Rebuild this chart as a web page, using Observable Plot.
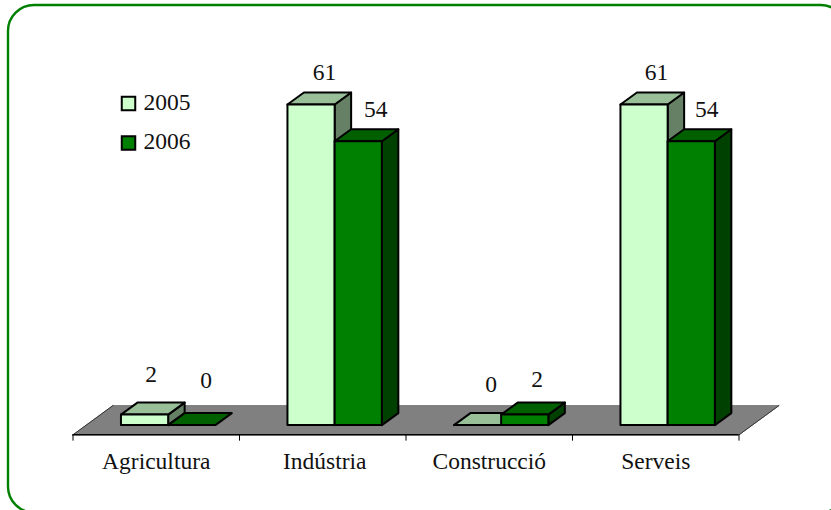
<!DOCTYPE html>
<html>
<head>
<meta charset="utf-8">
<script src="https://cdn.jsdelivr.net/npm/d3@7"></script>
<script src="https://cdn.jsdelivr.net/npm/@observablehq/plot@0.6"></script>
<style>html,body{margin:0;padding:0;background:#fff;overflow:hidden}</style>
</head>
<body>
<div id="chart"></div>
<script>
// Data
const categories = ["Agricultura", "Indústria", "Construcció", "Serveis"];
const years = ["2005", "2006"];
const values2005 = [2, 61, 0, 61];
const values2006 = [0, 54, 2, 54];

// Colours
const frontColors = ["#ccffcc", "#008000"];
const topColors = ["#99bf99", "#006000"];
const sideColors = ["#668066", "#004000"];

// 3D layout, expressed in scale units (x: categories, y: value)
const barStart = 0.288, barWidth = 0.2835;
const depthX = 0.099, depthY = 2.28;
const floorFront = -1.85, floorBack = 3.72, floorSkew = 0.24;

// Label nudges in px, from the picture: [dx, dy] above each bar's back top
const labelNudge2005 = [[-10, -21], [-3, -13], [-3, -21], [-4, -13]];
const labelNudge2006 = [[-2, -25], [1, -12], [-4, -16], [-1, -12]];
const categoryNudge = [0, 2, 0, 0];

const series = [values2005, values2006];
const polys = [];
const labels = [];
const poly = (id, fill, pts) => {
  [...pts, pts[0]].forEach(([x, y]) => polys.push({id, fill, x, y}));
};
categories.forEach((c, i) => {
  series.forEach((vals, s) => {
    const v = vals[i];
    const x0 = i + barStart + s * barWidth, x1 = x0 + barWidth;
    if (v > 0) poly(`${i}-${s}-side`, sideColors[s], [[x1, 0], [x1 + depthX, depthY], [x1 + depthX, v + depthY], [x1, v]]);
    poly(`${i}-${s}-top`, topColors[s], [[x0, v], [x1, v], [x1 + depthX, v + depthY], [x0 + depthX, v + depthY]]);
    if (v > 0) poly(`${i}-${s}-front`, frontColors[s], [[x0, 0], [x1, 0], [x1, v], [x0, v]]);
    const n = (s ? labelNudge2006 : labelNudge2005)[i];
    labels.push({x: (x0 + x1) / 2 + depthX, y: v + depthY, text: String(v), dx: n[0], dy: n[1]});
  });
});
const floor = [
  {x: 0, y: floorFront}, {x: 4, y: floorFront},
  {x: 4 + floorSkew, y: floorBack}, {x: floorSkew, y: floorBack}
];

const font = {fontFamily: "'Liberation Serif','Times New Roman',serif", fontSize: 23.5, fill: "#111"};
const chart = Plot.plot({
  width: 831, height: 510, margin: 0,
  x: {domain: [0, 4], range: [72.5, 738.5], axis: null},
  y: {domain: [0, 61], range: [424.6, 104], axis: null},
  color: {type: "identity"},
  style: {background: "#fff"},
  marks: [
    Plot.frame({stroke: "#008000", strokeWidth: 2.4, rx: 26, insetLeft: 7.5, insetTop: 4.5, insetRight: -15, insetBottom: -2}),
    Plot.line([...floor, floor[0]], {x: "x", y: "y", fill: "#808080", stroke: "#808080", strokeWidth: 1}),
    Plot.line([floor[0], floor[3]], {x: "x", y: "y", stroke: "#333", strokeWidth: 1}),
    Plot.line([floor[1], floor[2]], {x: "x", y: "y", stroke: "#333", strokeWidth: 1}),
    Plot.ruleY([floorFront], {x1: 0, x2: 4, stroke: "#000", strokeWidth: 1.6}),
    Plot.ruleX(d3.range(5), {y1: floorFront, y2: floorFront - 1.2, stroke: "#000", strokeWidth: 1}),
    Plot.line(polys, {x: "x", y: "y", z: "id", fill: "fill", stroke: "#000", strokeWidth: 2, strokeLinejoin: "round"}),
    ...labels.map(d => Plot.text([d], {x: "x", y: "y", text: "text", dx: d.dx, dy: d.dy, lineAnchor: "bottom", ...font})),
    ...categories.map((c, i) => Plot.text([c], {x: [i + 0.5], y: [floorFront], text: [c], dx: categoryNudge[i], dy: 34, lineAnchor: "bottom", ...font})),
    ...years.map((yr, i) => Plot.dot([yr], {frameAnchor: "top-left", dx: 128, dy: 103 + i * 39.5, symbol: "square", r: 7.6, fill: frontColors[i], stroke: "#000", strokeWidth: 2})),
    ...years.map((yr, i) => Plot.text([yr], {frameAnchor: "top-left", text: [yr], dx: 143, dy: 101.5 + i * 39, textAnchor: "start", lineAnchor: "middle", ...font}))
  ]
});
document.getElementById("chart").append(chart);
</script>
</body>
</html>
